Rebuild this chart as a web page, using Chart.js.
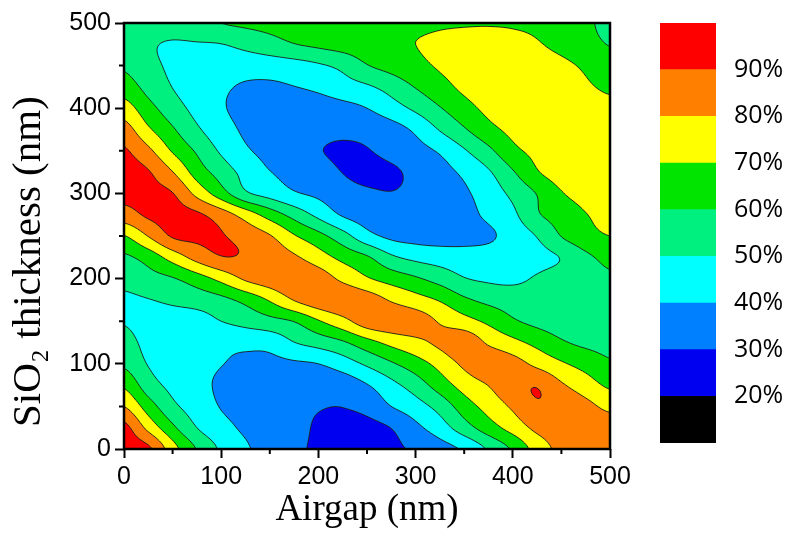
<!DOCTYPE html>
<html>
<head>
<meta charset="utf-8">
<title>Reflectance map</title>
<script src="https://cdn.jsdelivr.net/npm/chart.js@4.4.1/dist/chart.umd.min.js"></script>
<style>
  body { margin: 0; background: #fff; }
  .wrap { position: relative; width: 796px; height: 541px; }
  #contourChart { position: absolute; left: 0; top: 0; }
  #scaleChart { position: absolute; left: 640px; top: 0; }
</style>
</head>
<body>
<div class="wrap">
  <canvas id="contourChart" width="640" height="541"></canvas>
  <canvas id="scaleChart" width="156" height="541"></canvas>
</div>
<script>
// grid positions (nm)
const airgap = [0, 25, 50, 75, 100, 125, 150, 175, 200, 225, 250, 275, 300, 325, 350, 375, 400, 425, 450, 475, 500];
const thickness = [0, 25, 50, 75, 100, 125, 150, 175, 200, 225, 250, 275, 300, 325, 350, 375, 400, 425, 450, 475, 500];

// reflectance (%), one row per SiO2 thickness, airgap 0..500
const r000 = [95, 92, 74.1, 59.5, 48.5, 41.2, 36.4, 31.5, 29, 27.5, 27, 28.3, 31.5, 36.1, 41.5, 51.2, 61.4, 74.1, 83, 86.5, 87.5];
const r025 = [93, 77.1, 62.1, 50, 43.2, 38.4, 35.4, 32.4, 29, 27, 27.3, 30.2, 37.6, 45.3, 55.6, 65.3, 74, 82.5, 86, 87, 85.5];
const r050 = [80, 65.1, 52.4, 45.4, 39.5, 36.5, 34, 32, 30.5, 30.2, 33, 40, 45.8, 53.7, 65, 73.8, 81.5, 88.8, 87.5, 83, 77.5];
const r075 = [68.3, 54.6, 47.4, 42.8, 38.5, 35.5, 33.5, 32.5, 32.5, 34, 39.5, 47.1, 54.8, 64.7, 74, 80.3, 86.5, 89.4, 81.3, 74.7, 68.3];
const r100 = [58.3, 49.5, 45.5, 42.5, 40.3, 38, 37.5, 38.5, 40, 45, 51.7, 58.7, 65.5, 73.3, 82, 86.5, 84, 77.5, 71.3, 66.4, 61.3];
const r125 = [53, 47.5, 44.5, 43, 42.2, 42.5, 43.5, 49.8, 54, 58.7, 66.4, 72.8, 77.4, 82, 86.5, 78.6, 72.8, 67.1, 61.2, 58, 57];
const r150 = [49.5, 47.5, 46.2, 46, 50, 53.4, 56.8, 60.4, 69.1, 76.8, 85, 86.5, 85, 79.1, 73.7, 67.9, 61.3, 57.5, 55.5, 54.5, 54.5];
const r175 = [48.5, 49.7, 51.7, 54.2, 57.4, 63, 71, 80.5, 86, 87.5, 85, 79, 74, 69.1, 61.8, 57.5, 55.5, 54.5, 54, 54, 54.5];
const r200 = [53, 56.5, 59.3, 65.5, 73, 81.5, 85.5, 87.5, 85, 77.8, 71, 65.8, 61.3, 56.1, 50.5, 48.5, 48, 51, 54, 56.5, 58.5];
const r225 = [58.3, 64.1, 74.2, 83.5, 89.5, 89, 86, 81.5, 74.6, 67.1, 61.2, 51.8, 47.5, 45.5, 44.5, 44.5, 45, 47, 50.5, 58, 62.5];
const r250 = [69.5, 80.4, 91, 92, 90.7, 86, 80.7, 70.9, 63.2, 54, 43.3, 38, 36.5, 36, 36.5, 38.5, 44, 50.5, 60.3, 66.5, 70];
const r275 = [86, 91.5, 93, 91.5, 85, 75.6, 65.6, 56.4, 47.4, 39, 35.5, 34, 33.5, 34.5, 37, 42, 48, 58.8, 64.3, 69.6, 73.5];
const r300 = [92.5, 92, 90.3, 77.1, 64.4, 51.7, 46.2, 41, 38, 34, 31.5, 30.3, 32, 34.5, 38.5, 44.7, 52.3, 60.5, 69.3, 73.5, 76];
const r325 = [93.3, 90.7, 80.3, 65.6, 55.7, 46.7, 40.3, 37.2, 33.8, 29.8, 27.3, 28.5, 32.4, 36.5, 41.9, 48.9, 59.1, 69.2, 74.5, 77, 77.5];
const r350 = [91.2, 82.3, 69, 58.7, 48.6, 41.3, 37.3, 34, 30.5, 28.8, 29.5, 33, 36.6, 41.2, 49, 57.7, 67.5, 72.5, 75.5, 77, 77.5];
const r375 = [84.2, 71.6, 61.2, 51.5, 44, 38.5, 35.5, 33.5, 32.5, 32, 33, 36, 41.8, 50.7, 59, 67, 72.5, 76, 77.5, 78, 77.5];
const r400 = [74.5, 63.5, 54.4, 47, 41, 37.5, 35.5, 35, 35.5, 37, 40, 45.8, 52, 59.4, 66.4, 72.5, 76, 77.5, 77.5, 76, 73.5];
const r425 = [65, 56.7, 49.8, 45, 41.5, 39, 38.5, 39.8, 42, 45.8, 48.7, 53.8, 60.5, 66.6, 72, 75.5, 77, 76.5, 74.5, 71.5, 68];
const r450 = [58.5, 52.5, 48.5, 46, 44.5, 44, 44.5, 46, 48.8, 52.5, 59.5, 63.5, 67.5, 71, 73.5, 75, 75, 74, 72, 68.5, 63.8];
const r475 = [54, 51, 49.2, 49.3, 49.8, 52.8, 56.3, 59.7, 61.8, 63.9, 65.9, 68, 70, 71.5, 72.3, 72.5, 72, 70.6, 67.7, 63.5, 59.6];
const r500 = [56, 54, 54, 56.5, 60, 61.5, 62.5, 63.5, 64.5, 65.5, 66.5, 67.5, 68.5, 69.3, 69.6, 69.7, 69.5, 68.8, 66.5, 62, 57];
const reflectance = [r000, r025, r050, r075, r100, r125, r150, r175, r200, r225, r250,
                     r275, r300, r325, r350, r375, r400, r425, r450, r475, r500];

// contour levels and band colours (lowest band first)
const levels = [20, 30, 40, 50, 60, 70, 80, 90];
const bandColors = ['#000000', '#0000f0', '#0080ff', '#00ffff', '#00f080', '#00e400', '#ffff00', '#ff8000', '#ff0000'];
const bandEdges = [10, 20, 30, 40, 50, 60, 70, 80, 90, 100];
const axisTicks = [0, 100, 200, 300, 400, 500];
const minorTicks = [50, 150, 250, 350, 450];

const bandRGB = bandColors.map(h => [1, 3, 5].map(k => parseInt(h.substr(k, 2), 16)));

function bandOf(v) {
    let b = 0;
    for (const l of levels) if (v >= l) b++;
    return b;
}

// Catmull-Rom between grid nodes
function cubic(p0, p1, p2, p3, t) {
    return p1 + 0.5 * t * (p2 - p0 + t * (2 * p0 - 5 * p1 + 4 * p2 - p3 + t * (3 * (p1 - p2) + p3 - p0)));
}

function valueAt(xv, yv) {
    const n = airgap.length - 1, m = thickness.length - 1;
    let gx = (xv - airgap[0]) / (airgap[1] - airgap[0]);
    let gy = (yv - thickness[0]) / (thickness[1] - thickness[0]);
    gx = Math.max(0, Math.min(n, gx));
    gy = Math.max(0, Math.min(m, gy));
    const i = Math.min(n - 1, Math.floor(gx)), j = Math.min(m - 1, Math.floor(gy));
    const tx = gx - i, ty = gy - j;
    const ci = k => Math.max(0, Math.min(n, k));
    const rj = k => Math.max(0, Math.min(m, k));
    const col = [];
    for (let d = -1; d <= 2; d++) {
        const r = reflectance[rj(j + d)];
        col.push(cubic(r[ci(i - 1)], r[ci(i)], r[ci(i + 1)], r[ci(i + 2)], tx));
    }
    return cubic(col[0], col[1], col[2], col[3], ty);
}

// filled contour map + contour lines, drawn through the chart scales
const contourPlugin = {
    id: 'contourMap',
    beforeDatasetsDraw(chart) {
        const { ctx, chartArea: { left, top, right, bottom }, scales: { x, y } } = chart;
        const w = Math.round(right - left), h = Math.round(bottom - top);

        const off = document.createElement('canvas');
        off.width = w;
        off.height = h;
        const octx = off.getContext('2d');
        const img = octx.createImageData(w, h);
        for (let j = 0; j < h; j++) {
            const yv = y.getValueForPixel(top + j + 0.5);
            for (let i = 0; i < w; i++) {
                const c = bandRGB[bandOf(valueAt(x.getValueForPixel(left + i + 0.5), yv))];
                const k = (j * w + i) * 4;
                img.data[k] = c[0];
                img.data[k + 1] = c[1];
                img.data[k + 2] = c[2];
                img.data[k + 3] = 255;
            }
        }
        octx.putImageData(img, 0, 0);
        ctx.drawImage(off, left, top);

        // marching squares on a 2px sample grid
        const step = 2;
        const px = [], py = [];
        for (let p = left; p < right; p += step) px.push(p);
        px.push(right);
        for (let p = top; p < bottom; p += step) py.push(p);
        py.push(bottom);
        const nx = px.length, ny = py.length;
        const vals = new Float64Array(nx * ny);
        for (let j = 0; j < ny; j++) {
            const yv = y.getValueForPixel(py[j]);
            for (let i = 0; i < nx; i++) vals[j * nx + i] = valueAt(x.getValueForPixel(px[i]), yv);
        }

        ctx.save();
        ctx.beginPath();
        ctx.rect(left, top, right - left, bottom - top);
        ctx.clip();
        ctx.beginPath();
        for (const L of levels) {
            for (let j = 0; j < ny - 1; j++) {
                for (let i = 0; i < nx - 1; i++) {
                    const a = vals[j * nx + i], b = vals[j * nx + i + 1];
                    const c = vals[(j + 1) * nx + i + 1], d = vals[(j + 1) * nx + i];
                    const pts = [];
                    if ((a >= L) !== (b >= L)) pts.push([px[i] + (L - a) / (b - a) * (px[i + 1] - px[i]), py[j]]);
                    if ((b >= L) !== (c >= L)) pts.push([px[i + 1], py[j] + (L - b) / (c - b) * (py[j + 1] - py[j])]);
                    if ((c >= L) !== (d >= L)) pts.push([px[i + 1] - (L - c) / (d - c) * (px[i + 1] - px[i]), py[j + 1]]);
                    if ((d >= L) !== (a >= L)) pts.push([px[i], py[j + 1] - (L - d) / (a - d) * (py[j + 1] - py[j])]);
                    for (let k = 0; k + 1 < pts.length; k += 2) {
                        ctx.moveTo(pts[k][0], pts[k][1]);
                        ctx.lineTo(pts[k + 1][0], pts[k + 1][1]);
                    }
                }
            }
        }
        ctx.strokeStyle = '#1e1e1e';
        ctx.lineWidth = 0.9;
        ctx.stroke();
        ctx.restore();
    },
    afterDraw(chart) {
        const { ctx, chartArea: { left, top, right, bottom }, scales: { x, y } } = chart;
        ctx.save();
        ctx.strokeStyle = '#000';
        ctx.lineWidth = 2;
        ctx.beginPath();
        // minor ticks
        minorTicks.forEach(v => {
            const xp = x.getPixelForValue(v);
            ctx.moveTo(xp, bottom);
            ctx.lineTo(xp, bottom + 5);
            const yp = y.getPixelForValue(v);
            ctx.moveTo(left, yp);
            ctx.lineTo(left - 5, yp);
        });
        ctx.stroke();
        ctx.lineWidth = 2.5;
        ctx.strokeRect(left, top, right - left, bottom - top);
        ctx.restore();
    }
};

const tickFont = { family: "'Liberation Sans', Arial, sans-serif", size: 25 };
const xTitleFont = { family: "'Liberation Serif', 'Times New Roman', serif", size: 37 };
const yTitleFont = { family: "'Liberation Serif', 'Times New Roman', serif", size: 41 };

const contourChart = new Chart(document.getElementById('contourChart'), {
    type: 'scatter',
    data: { datasets: [{ data: [], pointRadius: 0 }] },
    options: {
        responsive: false,
        animation: false,
        events: [],
        layout: { padding: { top: 23, right: 30, left: 0, bottom: 0 } },
        plugins: { legend: { display: false }, tooltip: { enabled: false } },
        scales: {
            x: {
                type: 'linear', min: 0, max: 500,
                afterBuildTicks: s => { s.ticks = axisTicks.map(v => ({ value: v })); },
                ticks: { font: tickFont, color: '#000', padding: 4, maxRotation: 0, autoSkip: false },
                grid: { drawOnChartArea: false, tickLength: 9, tickWidth: 2, tickColor: '#000' },
                border: { display: false },
                title: { display: true, text: 'Airgap (nm)', font: xTitleFont, color: '#000', padding: { top: 0, bottom: 9 } },
                afterFit: s => { s.height = 92; }
            },
            y: {
                type: 'linear', min: 0, max: 500,
                afterBuildTicks: s => { s.ticks = axisTicks.map(v => ({ value: v })); },
                ticks: { font: tickFont, color: '#000', padding: 4, autoSkip: false },
                grid: { drawOnChartArea: false, tickLength: 9, tickWidth: 2, tickColor: '#000' },
                border: { display: false },
                // trailing spaces push the rotated title a little lower, as in the figure
                title: { display: true, text: 'SiO\u2082 thickness (nm)     ', font: yTitleFont, color: '#000', padding: { top: 5, bottom: 0 } },
                afterFit: s => { s.width = 124; }
            }
        }
    },
    plugins: [contourPlugin]
});

// colour scale
const scaleChart = new Chart(document.getElementById('scaleChart'), {
    type: 'bar',
    data: {
        labels: [''],
        datasets: bandColors.map((c, k) => ({
            data: [[bandEdges[k], bandEdges[k + 1]]],
            backgroundColor: c,
            borderWidth: 0,
            grouped: false,
            barPercentage: 1,
            categoryPercentage: 1
        }))
    },
    options: {
        responsive: false,
        animation: false,
        events: [],
        layout: { padding: { left: 20, top: 23, bottom: 98, right: 0 } },
        plugins: { legend: { display: false }, tooltip: { enabled: false } },
        scales: {
            x: { display: false },
            y: {
                position: 'right', min: 10, max: 100,
                afterBuildTicks: s => { s.ticks = levels.map(v => ({ value: v })); },
                ticks: { callback: v => v + '%', font: { family: "'Open Sans', 'DejaVu Sans', sans-serif", size: 25 }, color: '#000', padding: 18, autoSkip: false },
                grid: { display: false, drawTicks: false },
                border: { display: false },
                afterFit: s => { s.width = 80; s.paddingTop = 0; s.paddingBottom = 0; }
            }
        }
    }
});
</script>
</body>
</html>
